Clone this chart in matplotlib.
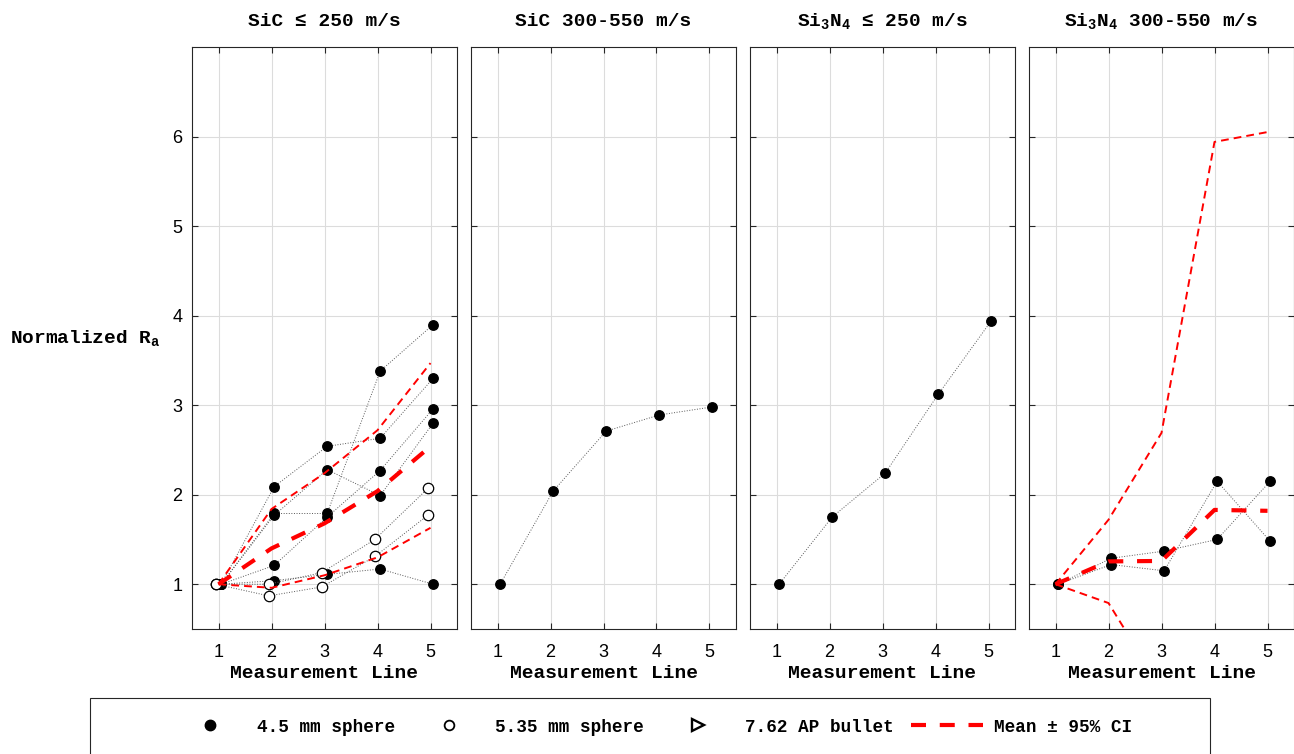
"""
	Normalized Ra per measurement line
	four panels, SiC / Si3N4, low and high impact speed
"""
import matplotlib
matplotlib.use('Agg')
import matplotlib.pyplot as plt
from matplotlib.lines import Line2D
from matplotlib.patches import Rectangle


# Data
x_lines = [1, 2, 3, 4, 5]

titles = [
	'SiC \u2264 250 m/s',
	'SiC 300-550 m/s',
	'$\\mathregular{Si_3N_4}$ \u2264 250 m/s',
	'$\\mathregular{Si_3N_4}$ 300-550 m/s',
]

# 4.5 mm sphere, one list per sample
sic_low_45 = [
	[1.00, 2.09, 2.54, 2.63, 3.30],
	[1.00, 1.79, 1.79, 3.38, 3.90],
	[1.00, 1.77, 2.28, 1.99, 2.80],
	[1.00, 1.21, 1.75, 2.27, 2.96],
	[1.00, 1.04, 1.11, 1.17, 1.00],
]
sic_high_45 = [
	[1.00, 2.04, 2.71, 2.89, 2.98],
]
sin_low_45 = [
	[1.00, 1.75, 2.24, 3.12, 3.94],
]
sin_high_45 = [
	[1.00, 1.29, 1.37, 1.50, 2.15],
	[1.00, 1.22, 1.15, 2.15, 1.48],
]

# 5.35 mm sphere
sic_low_535 = [
	[1.00, 1.00, 1.13, 1.50, 2.07],
	[1.00, 0.87, 0.97, 1.31, 1.77],
]

# Mean and 95% CI (only where there is more than one sample)
sic_low_mean = [1.00, 1.40, 1.68, 2.04, 2.54]
sic_low_upper = [1.00, 1.84, 2.24, 2.72, 3.47]
sic_low_lower = [1.00, 0.96, 1.10, 1.30, 1.63]

sin_high_mean = [1.00, 1.255, 1.26, 1.83, 1.82]
sin_high_upper = [1.00, 1.72, 2.69, 5.94, 6.05]
sin_high_lower = [1.00, 0.79, -0.17, -2.29, -2.42]

filled_sets = [sic_low_45, sic_high_45, sin_low_45, sin_high_45]
open_sets = [sic_low_535, [], [], []]
stats = [
	(sic_low_mean, sic_low_upper, sic_low_lower),
	None,
	None,
	(sin_high_mean, sin_high_upper, sin_high_lower),
]


# Fonts
mono = ['Liberation Mono', 'DejaVu Sans Mono']
sans = ['Liberation Sans', 'DejaVu Sans']


fig = plt.figure(figsize=(12.94, 7.54), dpi=100)

lefts = [192, 471, 750, 1029]

for i in range(4):

	ax = fig.add_axes([lefts[i] / 1294.0, 1 - 629 / 754.0, 265 / 1294.0, 582 / 754.0])

	# Samples
	for ys in filled_sets[i]:
		ax.plot([x + 0.05 for x in x_lines], ys, ':', color='0.35', lw=0.7,
			marker='o', ms=6.8, mfc='black', mec='black', zorder=3)

	for ys in open_sets[i]:
		ax.plot([x - 0.05 for x in x_lines], ys, ':', color='0.35', lw=0.7,
			marker='o', ms=7.5, mfc='white', mec='black', mew=0.9, zorder=3)

	# Mean +- CI
	if stats[i] is not None:
		mean, upper, lower = stats[i]
		ax.plot(x_lines, upper, color='red', lw=1.4, dashes=(4.0, 2.6), zorder=4)
		ax.plot(x_lines, lower, color='red', lw=1.4, dashes=(4.0, 2.6), zorder=4)
		ax.plot(x_lines, mean, color='red', lw=3.0, dashes=(3.6, 3.3), zorder=5)

	ax.set_xlim(0.5, 5.5)
	ax.set_ylim(0.5, 7.0)
	ax.set_xticks(x_lines)
	ax.set_yticks([1, 2, 3, 4, 5, 6])

	ax.grid(True, color='#dcdcdc', lw=0.8)
	ax.set_axisbelow(True)

	ax.tick_params(direction='in', top=True, right=True, length=4, width=0.8,
		color='0.15', labelsize=13, pad=11)
	ax.tick_params(axis='y', pad=7)
	for lab in ax.get_xticklabels() + ax.get_yticklabels():
		lab.set_family(sans)

	if i > 0:
		ax.set_yticklabels([])

	for sp in ax.spines.values():
		sp.set_color('0.15')
		sp.set_linewidth(0.8)

	ax.set_title(titles[i], family=mono, fontsize=14, fontweight='bold', pad=15)
	ax.set_xlabel('Measurement Line', family=mono, fontsize=14, fontweight='bold', labelpad=3)

	if i == 0:
		ax.set_ylabel('Normalized $\\mathregular{R_a}$', family=mono, fontsize=14,
			fontweight='bold', rotation=0, ha='right', va='center')
		ax.yaxis.set_label_coords(-0.12, 0.5)


# Legend
fig.patches.append(Rectangle((90 / 1294.0, -0.05), 1120 / 1294.0, 0.05 + 56 / 754.0,
	transform=fig.transFigure, fill=False, edgecolor='0.15', lw=0.8))

handles = [
	Line2D([], [], ls='none', marker='o', ms=7.5, mfc='black', mec='black'),
	Line2D([], [], ls='none', marker='o', ms=7, mfc='white', mec='black', mew=1.3),
	Line2D([], [], ls='none', marker='>', ms=8.5, mfc='white', mec='black', mew=1.7),
	Line2D([], [], color='red', lw=3.0, dashes=(3.6, 3.3)),
]
labels = ['4.5 mm sphere', '5.35 mm sphere', '7.62 AP bullet', 'Mean \u00b1 95% CI']

fig.legend(handles, labels, loc='center', bbox_to_anchor=(653 / 1294.0, 1 - 727 / 754.0),
	ncol=4, frameon=False, handlelength=4.1, handletextpad=0.6, columnspacing=1.0,
	prop={'family': mono, 'size': 12.7, 'weight': 'bold'})

fig.savefig('out.png', dpi=100)
